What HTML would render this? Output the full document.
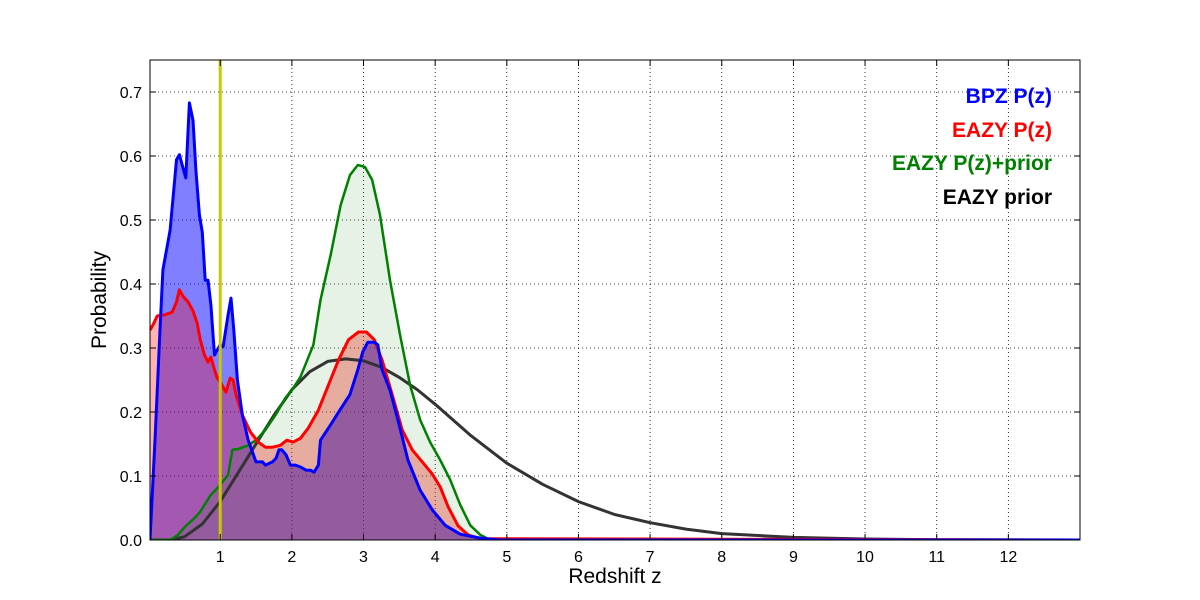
<!DOCTYPE html>
<html><head><meta charset="utf-8"><style>body{margin:0;background:#fff}svg{display:block;font-family:"Liberation Sans",sans-serif}</style></head>
<body>
<svg id="chart" width="1200" height="600" xmlns="http://www.w3.org/2000/svg"></svg>
<script>
const xTicks=[1,2,3,4,5,6,7,8,9,10,11,12];
const yTicks=[0.0,0.1,0.2,0.3,0.4,0.5,0.6,0.7];
const bpzZ=[0.02,0.09,0.16,0.2,0.3,0.39,0.43,0.47,0.52,0.57,0.62,0.66,0.71,0.75,0.79,0.83,0.87,0.92,0.96,1.0,1.04,1.11,1.15,1.19,1.24,1.31,1.39,1.5,1.59,1.63,1.67,1.73,1.78,1.82,1.86,1.92,1.98,2.05,2.12,2.2,2.26,2.31,2.37,2.4,2.54,2.67,2.81,2.92,2.99,3.06,3.15,3.2,3.26,3.37,3.48,3.62,3.79,3.96,4.14,4.35,4.63,4.91,13];
const bpzP=[0,0.156,0.328,0.422,0.484,0.594,0.602,0.586,0.566,0.683,0.656,0.578,0.508,0.481,0.406,0.406,0.367,0.289,0.297,0.305,0.302,0.352,0.378,0.328,0.25,0.195,0.156,0.122,0.122,0.117,0.119,0.122,0.128,0.141,0.141,0.133,0.117,0.117,0.114,0.109,0.109,0.106,0.117,0.156,0.18,0.203,0.227,0.266,0.294,0.309,0.309,0.305,0.266,0.234,0.188,0.125,0.078,0.047,0.023,0.009,0.003,0,0];
const eazyZ=[0.02,0.06,0.12,0.23,0.33,0.39,0.43,0.48,0.55,0.62,0.68,0.72,0.78,0.83,0.87,0.92,0.96,1.01,1.08,1.14,1.18,1.22,1.31,1.42,1.53,1.63,1.73,1.84,1.93,2.02,2.12,2.23,2.37,2.51,2.65,2.79,2.93,3.04,3.15,3.26,3.4,3.54,3.68,3.82,3.96,4.07,4.18,4.32,4.46,4.63,13];
const eazyP=[0.328,0.336,0.35,0.352,0.356,0.372,0.391,0.381,0.372,0.358,0.338,0.313,0.289,0.278,0.286,0.266,0.253,0.245,0.231,0.253,0.25,0.227,0.195,0.169,0.153,0.145,0.145,0.148,0.156,0.153,0.159,0.175,0.203,0.242,0.281,0.313,0.325,0.325,0.313,0.281,0.227,0.172,0.141,0.122,0.103,0.083,0.052,0.022,0.008,0.002,0];
const priorpZ=[0.02,0.3,0.41,0.52,0.64,0.72,0.86,1.0,1.11,1.17,1.25,1.39,1.5,1.63,1.77,1.91,2.0,2.12,2.3,2.4,2.54,2.68,2.81,2.92,3.02,3.12,3.23,3.37,3.51,3.65,3.79,3.93,4.07,4.21,4.35,4.49,4.63,4.77,13];
const priorpP=[0,0,0.008,0.022,0.034,0.044,0.069,0.086,0.102,0.141,0.142,0.148,0.156,0.172,0.195,0.222,0.234,0.255,0.305,0.375,0.445,0.523,0.57,0.586,0.583,0.563,0.508,0.406,0.32,0.242,0.188,0.153,0.125,0.094,0.055,0.023,0.008,0,0];
const priorZ=[0.02,0.3,0.5,0.75,1,1.25,1.5,1.75,2,2.25,2.5,2.75,3,3.25,3.5,3.75,4,4.5,5,5.5,6,6.5,7,7.5,8,9,10,11,12,13];
const priorP=[0,0,0.005,0.025,0.06,0.105,0.15,0.195,0.235,0.263,0.279,0.283,0.28,0.27,0.254,0.235,0.212,0.163,0.12,0.087,0.06,0.04,0.027,0.017,0.01,0.004,0.0015,0.0005,0.0002,0];
const specZ=1.0;

const L=150,R=1080,T=60,B=540,XMIN=0.02,XMAX=13,YMIN=0,YMAX=0.75;
const sx=z=>L+(z-XMIN)/(XMAX-XMIN)*(R-L);
const sy=p=>B-(p-YMIN)/(YMAX-YMIN)*(B-T);
const svg=document.getElementById('chart');
const NS='http://www.w3.org/2000/svg';
function mk(tag,attrs,parent){const e=document.createElementNS(NS,tag);for(const k in attrs)e.setAttribute(k,attrs[k]);(parent||svg).appendChild(e);return e;}
const clip=mk('clipPath',{id:'c'});mk('rect',{x:L,y:T,width:R-L,height:B-T},clip);
// grid
xTicks.forEach(t=>{const g=mk('line',{x1:sx(t),x2:sx(t),y1:T,y2:B,stroke:'#000','stroke-width':0.8,'stroke-dasharray':'1,3'});

});
yTicks.forEach(t=>{const g=mk('line',{x1:L,x2:R,y1:sy(t),y2:sy(t),stroke:'#000','stroke-width':0.8,'stroke-dasharray':'1,3'});

});
function pts(zs,ps){return zs.map((z,i)=>sx(z).toFixed(1)+','+sy(ps[i]).toFixed(1)).join(' ');}
function area(zs,ps,fill,op,name){const d='M'+sx(zs[0])+','+sy(0)+' L'+pts(zs,ps)+' L'+sx(zs[zs.length-1])+','+sy(0)+'Z';
const e=mk('path',{d:d,fill:fill,'fill-opacity':op,'clip-path':'url(#c)'});

}
function line(zs,ps,col,w,name){const e=mk('polyline',{points:pts(zs,ps),fill:'none',stroke:col,'stroke-width':w,'stroke-linejoin':'round','clip-path':'url(#c)'});

}
area(bpzZ,bpzP,'#0000ff',0.5,'bpz-fill');
area(eazyZ,eazyP,'#ff0000',0.3,'eazy-fill');
area(priorpZ,priorpP,'#008000',0.1,'eazy-prior-pz-fill');
line(priorZ,priorP,'#333',3,'eazy-prior-line');
line(priorpZ,priorpP,'#008000',2.5,'eazy-pz-prior-line');
line(eazyZ,eazyP,'#ff0000',3,'eazy-pz-line');
line(bpzZ,bpzP,'#0000ff',3,'bpz-pz-line');
const sl=mk('line',{x1:sx(specZ),x2:sx(specZ),y1:T,y2:B,stroke:'#c8c800','stroke-width':3});


mk('rect',{x:L,y:T,width:R-L,height:B-T,fill:'none',stroke:'#000','stroke-width':1});
xTicks.forEach(t=>{mk('line',{x1:sx(t),x2:sx(t),y1:B,y2:B-6,stroke:'#000'});mk('line',{x1:sx(t),x2:sx(t),y1:T,y2:T+6,stroke:'#000'});
const tx=mk('text',{x:sx(t),y:B+22,'font-size':16,'text-anchor':'middle'});tx.textContent=t;

});
yTicks.forEach(t=>{mk('line',{x1:L,x2:L+6,y1:sy(t),y2:sy(t),stroke:'#000'});mk('line',{x1:R,x2:R-6,y1:sy(t),y2:sy(t),stroke:'#000'});
const tx=mk('text',{x:L-8,y:sy(t)+6,'font-size':16,'text-anchor':'end'});tx.textContent=t.toFixed(1);

});
</script>
<svg width="0" height="0"></svg>
<div style="position:absolute;left:0;top:0;width:1200px;height:600px;pointer-events:none;font-family:'Liberation Sans',sans-serif">
<div style="position:absolute;left:515px;top:565px;width:200px;text-align:center;font-size:21px">Redshift z</div>
<div style="position:absolute;left:0px;top:288px;width:200px;text-align:center;font-size:21px;transform:translate(-100px,0) rotate(-90deg);transform-origin:100px 12px;left:100px">Probability</div>
<div style="position:absolute;right:148px;top:80px;text-align:right;font-size:21px;font-weight:bold;line-height:33.5px">
<div style="color:#0000ff">BPZ P(z)</div>
<div style="color:#ff0000">EAZY P(z)</div>
<div style="color:#008000">EAZY P(z)+prior</div>
<div style="color:#000">EAZY prior</div>
</div></div>
</body></html>
